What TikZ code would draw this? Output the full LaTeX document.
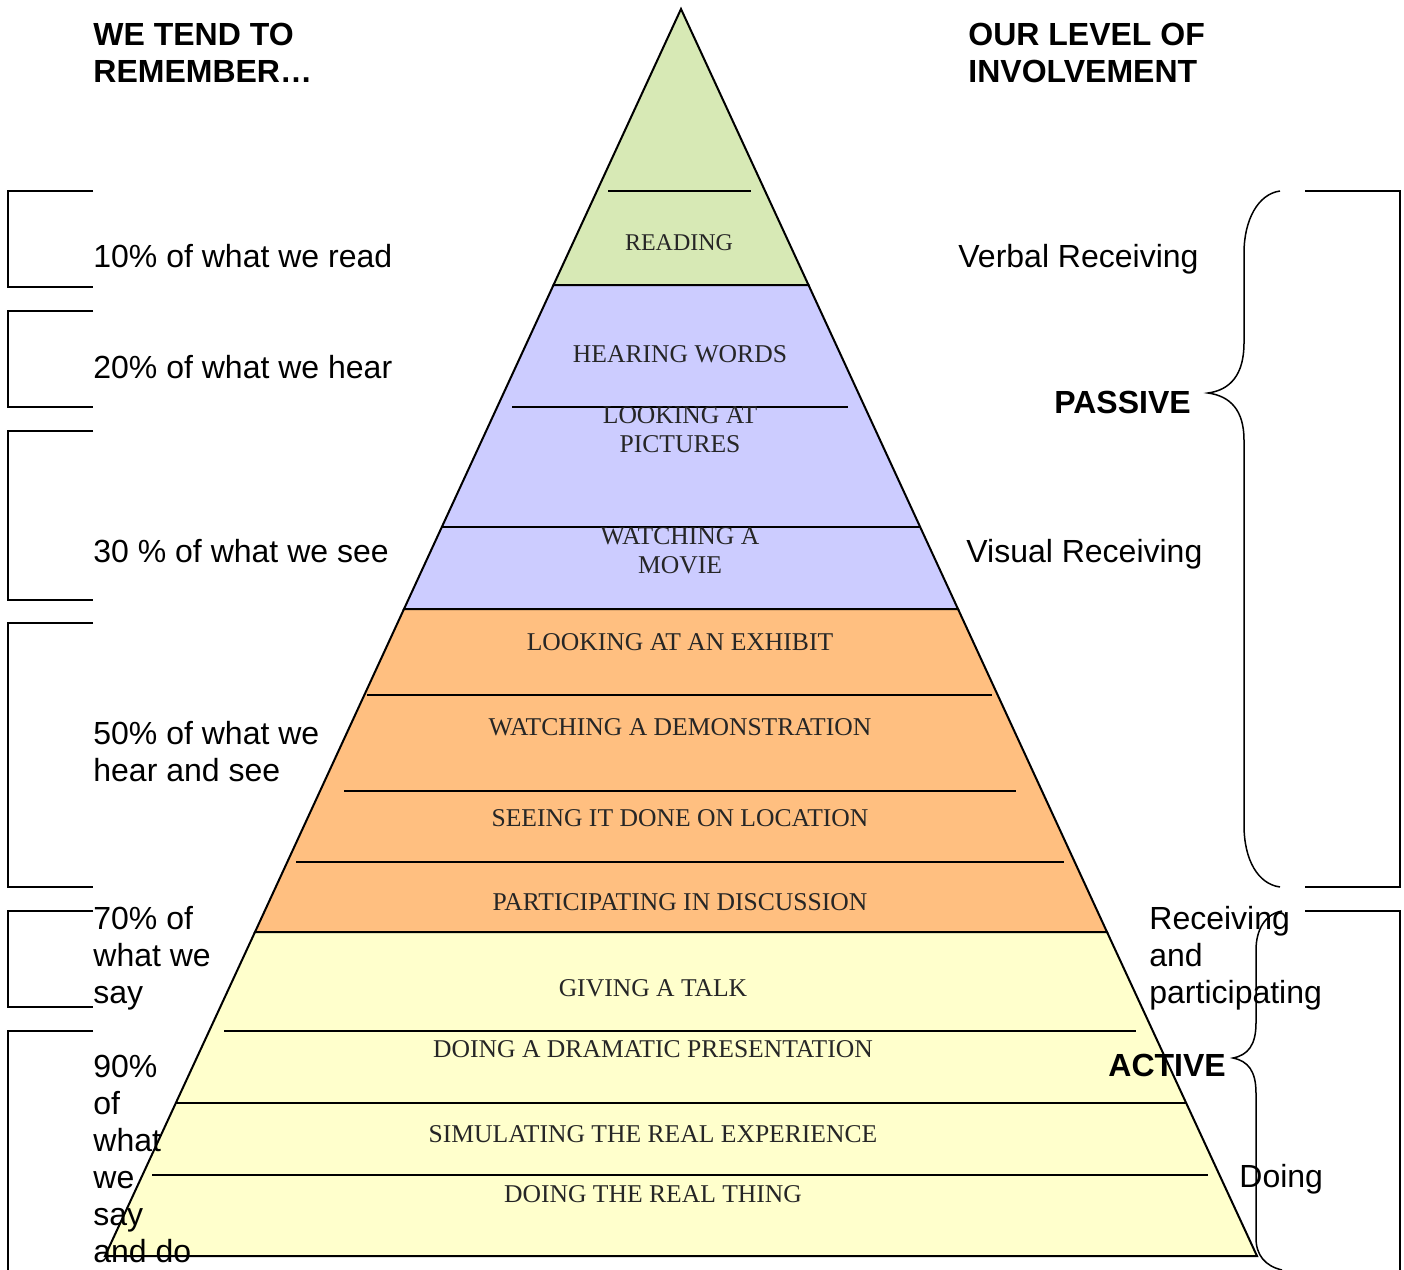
\documentclass[tikz,border=0pt]{standalone}
\usepackage{fontspec}
\setmainfont{Liberation Serif}
\setsansfont{Liberation Sans}
\usepackage{tikz}
\usetikzlibrary{calc,positioning}
\definecolor{readgreen}{RGB}{215,233,181}
\definecolor{seeblue}{RGB}{204,204,255}
\definecolor{doorange}{RGB}{255,191,128}
\definecolor{sayyellow}{RGB}{255,255,204}
\tikzset{
  layer/.style={draw=black, line width=1pt, line join=miter},
  sepline/.style={line width=1pt},
  lvl/.style={font=\fontsize{12.8}{14.5}\selectfont, text=black!85, align=center, inner sep=0pt},
  memo/.style={font=\sffamily\fontsize{16}{18.5}\selectfont, align=left, anchor=west, inner sep=0pt},
  head/.style={memo, font=\sffamily\bfseries\fontsize{16}{18.5}\selectfont},
  bracket/.style={line width=0.75pt}
}
\begin{document}
\begin{tikzpicture}[x=0.5pt,y=-0.5pt]
			\useasboundingbox (0,0) rectangle (1404,1270);
			% pyramid bands
			\filldraw[layer,fill=readgreen] (681,9) -- (808.5,285) -- (553.5,285) -- cycle;
			\filldraw[layer,fill=seeblue] (553.5,285) -- (808.5,285) -- (958,609) -- (404,609) -- cycle;
			\filldraw[layer,fill=doorange] (404,609) -- (958,609) -- (1107,932) -- (255,932) -- cycle;
			\filldraw[layer,fill=sayyellow] (255,932) -- (1107,932) -- (1257,1256) -- (105,1256) -- cycle;
			% inner lines
			\draw[sepline] (608,191) -- (751,191);
			\draw[sepline] (512,407) -- (848,407);
			\draw[sepline] (441,527) -- (920,527);
			\draw[sepline] (367,695) -- (992,695);
			\draw[sepline] (344,791) -- (1016,791);
			\draw[sepline] (296,862) -- (1064,862);
			\draw[sepline] (224,1031) -- (1136,1031);
			\draw[sepline] (176,1103) -- (1186,1103);
			\draw[sepline] (152,1175) -- (1208,1175);
			% pyramid labels
			\node[lvl,font=\fontsize{12}{14.5}\selectfont] (L1) at (679,243) {READING};
			\node[lvl] (L2) at (680,354) {HEARING WORDS};
			\node[lvl] (L3) at (680,430) {LOOKING AT\\PICTURES};
			\node[lvl] (L4) at (680,551) {WATCHING A\\MOVIE};
			\node[lvl] (L5) at (680,642) {LOOKING AT AN EXHIBIT};
			\node[lvl] (L6) at (680,727) {WATCHING A DEMONSTRATION};
			\node[lvl] (L7) at (680,818) {SEEING IT DONE ON LOCATION};
			\node[lvl] (L8) at (680,902) {PARTICIPATING IN DISCUSSION};
			\node[lvl] (L9) at (653,988) {GIVING A TALK};
			\node[lvl] (L10) at (653,1049) {DOING A DRAMATIC PRESENTATION};
			\node[lvl] (L11) at (653,1134) {SIMULATING THE REAL EXPERIENCE};
			\node[lvl] (L12) at (653,1194) {DOING THE REAL THING};
			% headings
			\node[head] (A) at (93,53) {WE TEND TO\\REMEMBER…};
			\node[head] (B) at (968,53) {OUR LEVEL OF\\INVOLVEMENT};
			% left: remember
			\node[memo] (M1) at (93,256) {10\% of what we read};
			\node[memo] (M2) at (93,367) {20\% of what we hear};
			\node[memo] (M3) at (93,551) {30 \% of what we see};
			\node[memo] (M4) at (93,752) {50\% of what we\\hear and see};
			\node[memo] (M5) at (93,958) {70\% of\\what we\\say};
			\node[memo] (M6) at (93,1159) {90\%\\of\\what\\we\\say\\and do};
			\draw[bracket] (93,191) -- (8,191) -- (8,287) -- (93,287);
			\draw[bracket] (93,311) -- (8,311) -- (8,407) -- (93,407);
			\draw[bracket] (93,431) -- (8,431) -- (8,600) -- (93,600);
			\draw[bracket] (93,623) -- (8,623) -- (8,887) -- (93,887);
			\draw[bracket] (93,911) -- (8,911) -- (8,1007) -- (93,1007);
			\draw[bracket] (93,1031) -- (8,1031) -- (8,1270);
			% right: involvement
			\node[memo] (V1) at (958,259) {Verbal Receiving};
			\node[memo] (V2) at (966,554) {Visual Receiving};
			\node[memo] (V3) at (1149,958) {Receiving\\and\\participating};
			\node[memo] (V4) at (1239,1179) {Doing};
			\node[head] (P) at (1054,402) {PASSIVE};
			\node[head] (Q) at (1108,1065) {ACTIVE};
			\draw[bracket] (1280,191) .. controls (1258,194) and (1244,220) .. (1244,253)
				-- (1244,343) .. controls (1244,375) and (1230,390) .. (1208,393)
				.. controls (1230,396) and (1244,410) .. (1244,440)
				-- (1244,825) .. controls (1244,860) and (1258,884) .. (1280,887);
			\draw[bracket] (1305,191) -- (1400,191) -- (1400,887) -- (1305,887);
			\draw[bracket] (1282,911) .. controls (1265,914) and (1256,930) .. (1256,950)
				-- (1256,1023) .. controls (1256,1045) and (1248,1055) .. (1233,1058)
				.. controls (1248,1061) and (1256,1071) .. (1256,1093)
				-- (1256,1238) .. controls (1256,1255) and (1265,1266) .. (1282,1270);
			\draw[bracket] (1305,911) -- (1400,911) -- (1400,1270);
\end{tikzpicture}
\end{document}
